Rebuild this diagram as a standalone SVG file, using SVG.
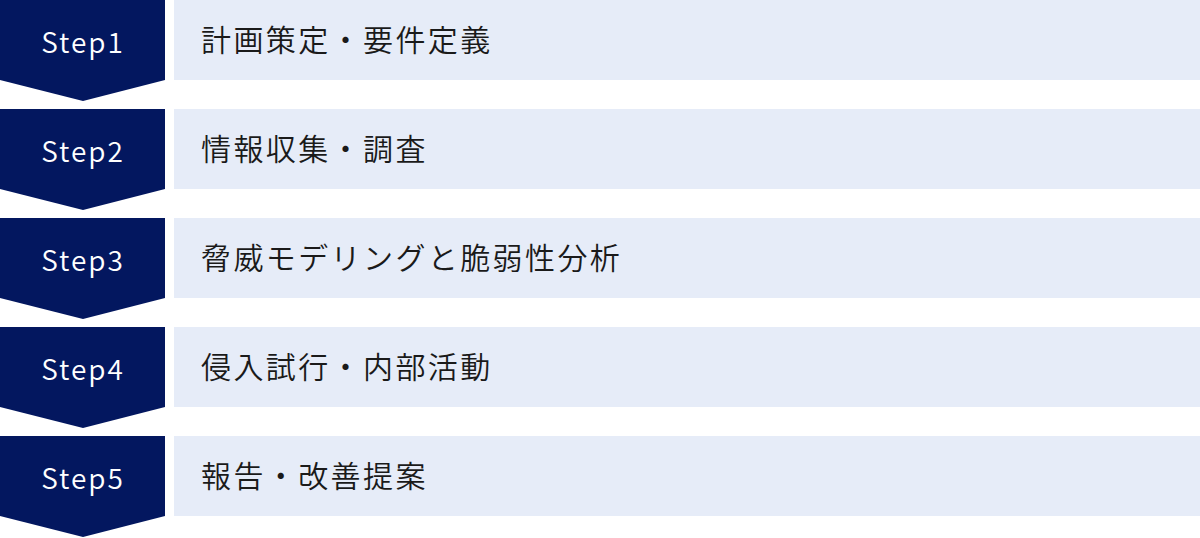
<svg xmlns="http://www.w3.org/2000/svg" width="1200" height="538" viewBox="0 0 1200 538">
  <defs>
    <style>
      .chev { fill: #03175f; }
      .box { fill: #e6ecf8; }
      .step { font-family: "Noto Sans CJK JP", "Noto Sans", sans-serif; font-size: 28px; font-weight: 350; fill: #ffffff; text-anchor: middle; letter-spacing: 2px; }
      .label { font-family: "Noto Sans CJK JP", sans-serif; font-size: 30px; font-weight: 350; fill: #1a1a1a; letter-spacing: 2.4px; }
    </style>
    <path id="chevShape" d="M0 0 H165 V80 L83 101 L0 80 Z"/>
  </defs>
  <g id="connectors"></g>
  <g id="step1" transform="translate(0,0)">
    <use href="#chevShape" class="chev"/>
    <rect class="box" x="174" y="0" width="1026" height="80"/>
    <text class="step" x="83" y="53">Step1</text>
    <text class="label" x="201" y="51">計画策定・要件定義</text>
  </g>
  <g id="step2" transform="translate(0,109)">
    <use href="#chevShape" class="chev"/>
    <rect class="box" x="174" y="0" width="1026" height="80"/>
    <text class="step" x="83" y="53">Step2</text>
    <text class="label" x="201" y="51">情報収集・調査</text>
  </g>
  <g id="step3" transform="translate(0,218)">
    <use href="#chevShape" class="chev"/>
    <rect class="box" x="174" y="0" width="1026" height="80"/>
    <text class="step" x="83" y="53">Step3</text>
    <text class="label" x="201" y="51">脅威モデリングと脆弱性分析</text>
  </g>
  <g id="step4" transform="translate(0,327)">
    <use href="#chevShape" class="chev"/>
    <rect class="box" x="174" y="0" width="1026" height="80"/>
    <text class="step" x="83" y="53">Step4</text>
    <text class="label" x="201" y="51">侵入試行・内部活動</text>
  </g>
  <g id="step5" transform="translate(0,436)">
    <use href="#chevShape" class="chev"/>
    <rect class="box" x="174" y="0" width="1026" height="80"/>
    <text class="step" x="83" y="53">Step5</text>
    <text class="label" x="201" y="51">報告・改善提案</text>
  </g>
</svg>
